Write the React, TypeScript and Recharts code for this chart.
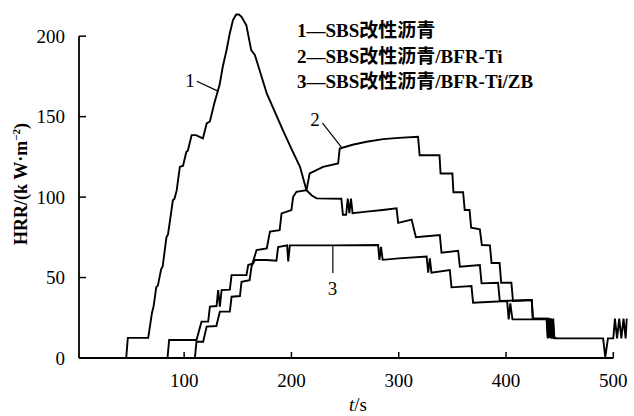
import { Line, LineChart, ReferenceLine, XAxis, YAxis } from "recharts";

// t (s), HRR (kW·m^-2)
const sbs: [number, number][] = [
  [46, 0], [47.5, 12.5], [66.5, 12.5], [70, 28], [71.5, 32], [74, 44], [75.5, 45],
  [78.5, 55], [80, 57], [83.5, 75], [85, 77], [89.5, 98], [91, 99], [93, 104],
  [96, 118.8], [99, 119.5], [102, 128], [103.5, 129], [107, 138.5], [111, 138.5],
  [117.5, 136.5], [121, 145.8], [124, 147], [128, 158], [133, 169.6], [136, 181],
  [139.5, 191.3], [142.5, 201.7], [145.5, 210], [148.5, 213.5], [151, 213.5],
  [153.5, 212], [158, 206.8], [162.5, 191.3], [166, 188.2], [177, 164.4],
  [192, 141.6], [200, 130], [208, 118.8], [214, 104.3], [219, 101], [223.5, 99.2],
  [246.5, 99], [248, 89], [251, 89], [252.5, 99], [254, 90], [255.5, 99], [257, 90],
  [270, 91], [285, 92], [298, 93], [299.5, 84], [312, 86], [316, 75], [338.3, 76.4],
  [339.9, 65.4], [355.4, 66.6], [357, 56.7], [375.6, 57.8], [377.2, 46.4],
  [392.6, 46.8], [394.2, 35.4], [424, 36], [425, 24.5], [438, 24.5], [439, 12.5],
  [440, 24.5], [441, 12.5], [442, 24.5], [443, 12.5], [447, 12.5],
];

const sbsBfr: [number, number][] = [
  [110, 0], [111.5, 10.1], [117.7, 10.1], [121, 19.5], [130, 19.9], [133.3, 28.8],
  [142.6, 28.8], [144.2, 38.1], [152, 38.5], [153.5, 47.4], [161, 48.4],
  [162.8, 56.7], [167.5, 67.1], [177, 68.1], [180, 78.5], [189, 79.5], [190.8, 89.9],
  [200, 91.9], [201.6, 100.2], [204.7, 103.3], [214, 104.3], [217, 114.7],
  [229.5, 118.8], [243.5, 120.9], [245, 130.2], [257, 132.5], [270, 134.4],
  [285.5, 136], [300, 136.8], [318, 137.5], [319.5, 126], [338, 126], [339, 114.7],
  [350, 114.7], [351, 103], [360, 103], [361.5, 92], [366, 92], [367.5, 81],
  [375.6, 80], [377.5, 70.2], [385, 70], [386.5, 59], [394, 59], [395.5, 46.8],
  [405, 46.8], [406.5, 35.4], [424, 36], [425, 24.5], [440, 24.5], [441, 12.5],
  [442, 24.5], [443, 12.5], [444, 24.5], [445, 12.5], [447, 12.5],
];

const sbsBfrZb: [number, number][] = [
  [84.5, 0], [86, 11.2], [111.5, 11.2], [116.2, 22.6], [122.4, 22.6], [124, 31.9],
  [130.2, 32.3], [131.7, 42.2], [133.3, 31.9], [134.9, 42.2], [142.6, 42.5],
  [144.2, 51.5], [158.1, 51.5], [159.7, 57.8], [164.3, 58.8], [165.9, 60.9],
  [176.8, 60.9], [186, 60.4], [187.6, 69], [196, 70], [197, 60], [198.5, 70],
  [240, 70], [280.8, 70.2], [282, 61], [283.5, 69], [285, 61], [300, 61.9],
  [326, 63], [327.5, 53], [329, 62], [330.5, 53], [347.6, 54.7], [349.2, 43.9],
  [367.8, 44.7], [369.3, 34.4], [401, 35.4], [402.5, 24], [404, 34], [406, 24],
  [437.8, 24], [439, 12.2], [440.5, 24], [442, 12.2], [443.5, 24], [445, 12.2],
  [490.5, 12.2], [492.5, 0.5], [495, 12.2], [500, 12.2], [501.5, 24.5],
  [503.5, 12.2], [505.5, 24.5], [507.5, 12.2], [509.5, 24.5], [511.5, 12.2],
  [512.5, 24.5],
];

const X_TICKS = [100, 200, 300, 400, 500];
const Y_TICKS = [0, 50, 100, 150, 200];
const LEGEND = ["1—SBS改性沥青", "2—SBS改性沥青/BFR-Ti", "3—SBS改性沥青/BFR-Ti/ZB"];

const rows = (pts: [number, number][]) => pts.map(([t, hrr]) => ({ t, hrr }));

const serif = '"Liberation Serif", "Noto Sans CJK SC", serif';
const tickStyle = { fill: "#000", fontSize: 19, fontFamily: serif };

export default function App() {
  return (
    <div
      style={{
        position: "absolute",
        left: 0,
        top: 0,
        width: 634,
        height: 416,
        background: "#fff",
        fontFamily: serif,
        color: "#000",
      }}
    >
      <LineChart width={634} height={416} margin={{ top: 4, right: 4.6, left: 19, bottom: 28 }}>
        <XAxis
          type="number"
          dataKey="t"
          domain={[2, 515]}
          ticks={X_TICKS}
          axisLine={false}
          tickLine={{ stroke: "#000", strokeWidth: 1.5 }}
          tickSize={-6}
          tickMargin={22}
          tick={tickStyle}
          height={30}
        />
        <YAxis
          type="number"
          domain={[0, 220]}
          ticks={Y_TICKS}
          axisLine={false}
          tickLine={{ stroke: "#000", strokeWidth: 1.5 }}
          tickSize={-7}
          tickMargin={21}
          tick={tickStyle}
          width={60}
        />
        <ReferenceLine segment={[{ x: 2, y: 0 }, { x: 500, y: 0 }]} stroke="#000" strokeWidth={1.8} />
        <ReferenceLine segment={[{ x: 2, y: 0 }, { x: 2, y: 200 }]} stroke="#000" strokeWidth={1.8} />
        {/* leader lines for the curve numbers */}
        <ReferenceLine segment={[{ x: 111.8, y: 172 }, { x: 131, y: 166 }]} stroke="#000" strokeWidth={1.2} />
        <ReferenceLine segment={[{ x: 229, y: 146 }, { x: 246.5, y: 131 }]} stroke="#000" strokeWidth={1.2} />
        <ReferenceLine segment={[{ x: 238.6, y: 69.5 }, { x: 238.6, y: 52.8 }]} stroke="#000" strokeWidth={1.2} />
        <Line data={rows(sbs)} dataKey="hrr" stroke="#000" strokeWidth={1.9} dot={false} isAnimationActive={false} />
        <Line data={rows(sbsBfr)} dataKey="hrr" stroke="#000" strokeWidth={1.9} dot={false} isAnimationActive={false} />
        <Line data={rows(sbsBfrZb)} dataKey="hrr" stroke="#000" strokeWidth={1.9} dot={false} isAnimationActive={false} />
      </LineChart>

      <div style={{ position: "absolute", left: 297, top: 18, fontSize: 19, fontWeight: "bold", lineHeight: "25.5px", whiteSpace: "nowrap" }}>
        {LEGEND.map((s) => (
          <div key={s}>{s}</div>
        ))}
      </div>

      <div style={{ position: "absolute", left: 190, top: 81, fontSize: 19, transform: "translate(-50%, -50%)" }}>1</div>
      <div style={{ position: "absolute", left: 315, top: 120, fontSize: 19, transform: "translate(-50%, -50%)" }}>2</div>
      <div style={{ position: "absolute", left: 332.5, top: 288.5, fontSize: 19, transform: "translate(-50%, -50%)" }}>3</div>

      <div style={{ position: "absolute", left: 358, top: 405, fontSize: 19, transform: "translate(-50%, -50%)", whiteSpace: "nowrap" }}>
        <i>t</i>/s
      </div>
      <div
        style={{
          position: "absolute",
          left: 21,
          top: 183.5,
          fontSize: 18,
          fontWeight: "bold",
          whiteSpace: "nowrap",
          transform: "translate(-50%, -50%) rotate(-90deg)",
        }}
      >
        HRR/(k W·m<sup style={{ fontSize: 11 }}>−2</sup>)
      </div>
    </div>
  );
}
